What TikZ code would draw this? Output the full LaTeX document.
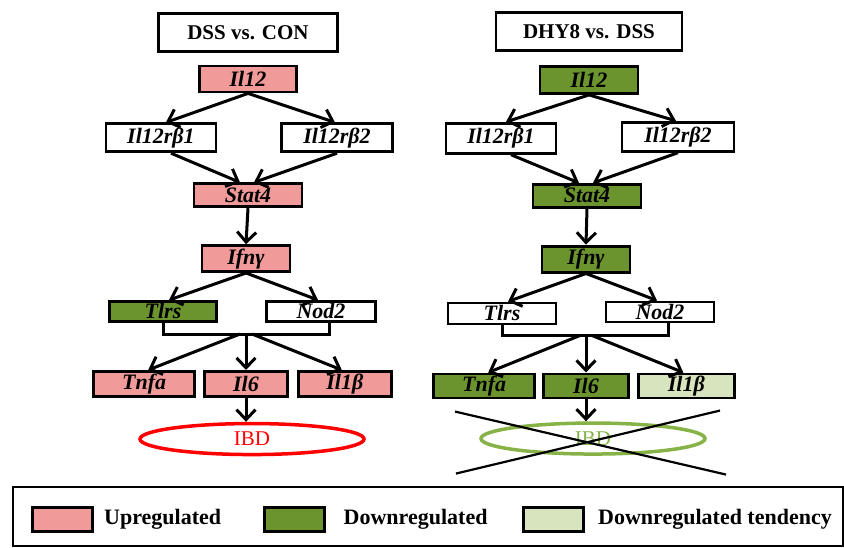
\documentclass[tikz,border=0pt]{standalone}
\usepackage{fontspec}
\setmainfont{Liberation Serif}
\usetikzlibrary{shapes,arrows.meta,positioning}
\definecolor{uppink}{RGB}{240,154,154}
\definecolor{downgreen}{RGB}{107,148,46}
\definecolor{tendgreen}{RGB}{215,228,189}
\definecolor{ibdgreen}{RGB}{134,178,72}
\tikzstyle{gene} = [rectangle, draw, line width=2.8pt, inner sep=1pt,
    font=\fontsize{22}{26}\selectfont\bfseries\itshape]
\tikzstyle{header} = [rectangle, draw, line width=2.8pt, minimum height=38pt,
    font=\fontsize{21}{25}\selectfont\bfseries]
\tikzstyle{disease} = [ellipse, draw, line width=3.5pt, minimum width=224pt,
    minimum height=31pt, font=\fontsize{21}{25}\selectfont]
\tikzstyle{line} = [draw, line width=3pt, -{Straight Barb[length=10pt,width=19pt]}]
\tikzstyle{swatch} = [rectangle, draw, line width=3pt, minimum width=60pt, minimum height=24pt]
\tikzstyle{legtext} = [inner sep=0pt, font=\fontsize{22}{26}\selectfont\bfseries]

\begin{document}
\begin{tikzpicture}[x=1pt,y=-1pt]
		\useasboundingbox (0,0) rectangle (844,547);
		% Left panel: DSS vs. CON
		\node [gene, fill=uppink, minimum width=97pt, minimum height=26pt] (il12L) at (248,79) {Il12};
		\node [header, minimum width=179pt, above=12pt of il12L] (titleL) {DSS vs. CON};
		\node [gene, minimum width=110pt, minimum height=28pt, below=29pt of il12L, xshift=-87pt] (r1L) {Il12rβ1};
		\node [gene, minimum width=111pt, minimum height=28pt, below=29pt of il12L, xshift=89pt] (r2L) {Il12rβ2};
		\node [gene, fill=uppink, minimum width=108pt, minimum height=23pt, below=89pt of il12L] (stat4L) {Stat4};
		\node [gene, fill=uppink, minimum width=88pt, minimum height=26pt, below=36pt of stat4L, xshift=-2pt] (ifnL) {Ifnγ};
		\node [gene, fill=downgreen, minimum width=107pt, minimum height=20pt, below=27pt of ifnL, xshift=-83pt] (tlrsL) {Tlrs};
		\node [gene, minimum width=109pt, minimum height=20pt, below=27pt of ifnL, xshift=75pt] (nod2L) {Nod2};
		\coordinate [below=61pt of ifnL] (junL);
		\node [gene, fill=uppink, minimum width=83pt, minimum height=25pt, below=36pt of junL] (il6L) {Il6};
		\node [gene, fill=uppink, minimum width=101pt, minimum height=25pt, left=7pt of il6L] (tnfaL) {Tnfa};
		\node [gene, fill=uppink, minimum width=93pt, minimum height=25pt, right=8pt of il6L] (il1bL) {Il1β};
		\node [disease, draw=red, text=red, below=24pt of il6L, xshift=6pt] (ibdL) {IBD};
		% Right panel: DHY8 vs. DSS
		\node [gene, fill=downgreen, minimum width=98pt, minimum height=27pt] (il12R) at (589,80) {Il12};
		\node [header, minimum width=186pt, above=13pt of il12R] (titleR) {DHY8 vs. DSS};
		\node [gene, minimum width=110pt, minimum height=30pt, below=27pt of il12R, xshift=-88pt] (r1R) {Il12rβ1};
		\node [gene, minimum width=112pt, minimum height=29pt, below=26pt of il12R, xshift=89pt] (r2R) {Il12rβ2};
		\node [gene, fill=downgreen, minimum width=108pt, minimum height=23pt, below=88pt of il12R, xshift=-2pt] (stat4R) {Stat4};
		\node [gene, fill=downgreen, minimum width=88pt, minimum height=26pt, below=36pt of stat4R, xshift=-1pt] (ifnR) {Ifnγ};
		\node [gene, minimum width=108pt, minimum height=21pt, below=28pt of ifnR, xshift=-84pt] (tlrsR) {Tlrs};
		\node [gene, minimum width=108pt, minimum height=20pt, below=27pt of ifnR, xshift=74pt] (nod2R) {Nod2};
		\coordinate [below=62pt of ifnR] (junR);
		\node [gene, fill=downgreen, minimum width=85pt, minimum height=24pt, below=37pt of junR] (il6R) {Il6};
		\node [gene, fill=downgreen, minimum width=101pt, minimum height=24pt, left=6pt of il6R] (tnfaR) {Tnfa};
		\node [gene, fill=tendgreen, minimum width=96pt, minimum height=24pt, right=7pt of il6R] (il1bR) {Il1β};
		\node [disease, draw=ibdgreen, text=ibdgreen, below=22pt of il6R, xshift=7pt] (ibdR) {IBD};
		% Cross over the right IBD
		\coordinate (crossA) at ([shift={(-138,-27)}]ibdR.center);
		\coordinate (crossB) at ([shift={(133,36)}]ibdR.center);
		\coordinate (crossC) at ([shift={(-137,35)}]ibdR.center);
		\coordinate (crossD) at ([shift={(127,-28)}]ibdR.center);
		% Arrows
		\foreach \p in {L,R} {
			\path [line] (il12\p.south) -- ([xshift=5pt]r1\p.north);
			\path [line] (il12\p.south) -- ([xshift=-2pt]r2\p.north);
			\path [line] ([xshift=10pt]r1\p.south) -- ([xshift=-8pt]stat4\p.north);
			\path [line] (r2\p.south) -- ([xshift=6pt]stat4\p.north);
			\path [line] (stat4\p.south) -- (ifn\p.north);
			\path [line] (ifn\p.south) -- ([xshift=6pt]tlrs\p.north);
			\path [line] (ifn\p.south) -- ([xshift=-3pt]nod2\p.north);
			\draw [line width=3pt] (tlrs\p.south) |- (jun\p) -| ([xshift=8pt]nod2\p.south);
			\path [line] ([xshift=-6pt]jun\p) -- ([xshift=4pt]tnfa\p.north);
			\path [line] (jun\p) -- (jun\p |- il6\p.north);
			\path [line] ([xshift=6pt]jun\p) -- ([xshift=-3pt]il1b\p.north);
			\path [line] (il6\p.south) -- (il6\p.south |- ibd\p.north);
		}
		\draw [line width=2.2pt] (crossA) -- (crossB);
		\draw [line width=2.2pt] (crossC) -- (crossD);
		% Legend
		\draw [line width=1.5pt] (13,487) rectangle (843,546);
		\node [swatch, fill=uppink] (upbox) at (62.5,519.5) {};
		\node [legtext, right=10pt of upbox] (uptext) {Upregulated};
		\node [swatch, fill=downgreen] (downbox) at (294,519.5) {};
		\node [legtext, right=18pt of downbox] (downtext) {Downregulated};
		\node [swatch, fill=tendgreen] (tendbox) at (553.5,519.5) {};
		\node [legtext, right=13pt of tendbox] (tendtext) {Downregulated tendency};
	\end{tikzpicture}
\end{document}
